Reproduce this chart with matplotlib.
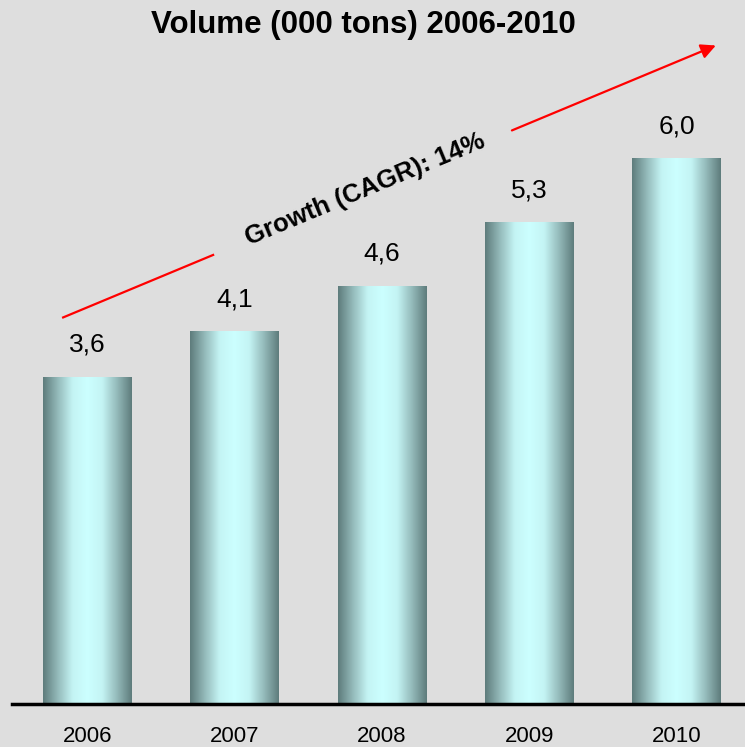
"""Volume bar chart 2006-2010 with CAGR arrow"""
import matplotlib
matplotlib.use('Agg')
import matplotlib.pyplot as plt
import numpy as np
from matplotlib.colors import LinearSegmentedColormap

years = ['2006', '2007', '2008', '2009', '2010']
volume = [3.6, 4.1, 4.6, 5.3, 6.0]
value_labels = ['3,6', '4,1', '4,6', '5,3', '6,0']
title = 'Volume (000 tons) 2006-2010'
growth_label = 'Growth (CAGR): 14%'

plt.rcParams['font.family'] = ['Liberation Sans', 'DejaVu Sans']
bg = '#dedede'

fig = plt.figure(figsize=(7.45, 7.47), dpi=100, facecolor=bg)
ax = fig.add_axes([12 / 745, 1 - 704 / 747, 1 - 12 / 745, 704 / 747])
ax.set_facecolor(bg)

x = np.arange(len(years))
width = 0.6
bars = ax.bar(x, volume, width=width, color='none', edgecolor='none', zorder=2)

# Metallic horizontal gradient for each bar
cmap = LinearSegmentedColormap.from_list(
    'steel', ['#5e7c7c', '#94baba', '#c4f4f4', '#ccffff', '#c4f4f4', '#94baba', '#5e7c7c'])
grad = np.linspace(0, 1, 256).reshape(1, -1)
for bar in bars:
    x0, y0 = bar.get_x(), bar.get_y()
    w, h = bar.get_width(), bar.get_height()
    im = ax.imshow(grad, cmap=cmap, aspect='auto', extent=(x0, x0 + w, y0, y0 + h),
                   interpolation='bicubic', zorder=2)
    im.set_clip_path(bar)

# Value labels
for xi, v, lab in zip(x, volume, value_labels):
    ax.text(xi, v + 0.35, lab, ha='center', va='center', fontsize=19, color='black')

ax.set_xlim(-0.51, 4.465)
ax.set_ylim(0, 7.74)

# Axes styling: only the baseline
for side in ['top', 'right', 'left']:
    ax.spines[side].set_visible(False)
ax.spines['bottom'].set_linewidth(2.5)
ax.spines['bottom'].set_color('black')
ax.set_yticks([])
ax.set_xticks(x)
ax.set_xticklabels(years, fontsize=16)
ax.tick_params(axis='x', length=0, pad=16)

# Growth arrow, broken where the label sits
start = (-0.163, 4.25)
gap_a = (0.855, 4.937)
gap_b = (2.883, 6.306)
end = (4.267, 7.24)
ax.plot([start[0], gap_a[0]], [start[1], gap_a[1]], color='red', lw=1.6, zorder=3)
ax.annotate('', xy=end, xytext=gap_b,
            arrowprops=dict(arrowstyle='-|>', color='red', lw=1.6, mutation_scale=22,
                            shrinkA=0, shrinkB=0), zorder=3)
ax.text(1.89, 5.66, growth_label, ha='center', va='center', rotation=22.6,
        rotation_mode='anchor', fontsize=18.5, fontweight='bold', color='black', zorder=4)

fig.text(363 / 745, 1 - 25 / 747, title, ha='center', va='center',
         fontsize=22.5, fontweight='bold')

fig.savefig('out.png', dpi=100, facecolor=bg)
